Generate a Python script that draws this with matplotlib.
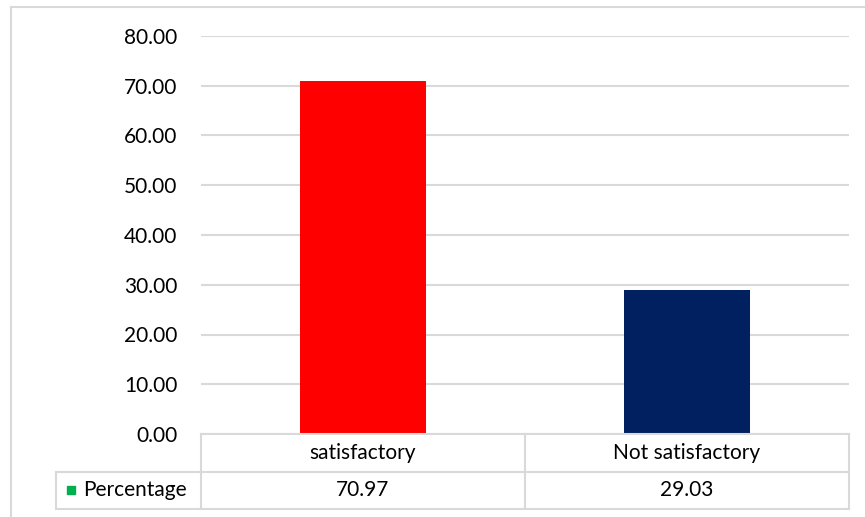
import matplotlib.pyplot as plt
from matplotlib.lines import Line2D

categories = ['satisfactory', 'Not satisfactory']
percentages = [70.97, 29.03]
series_name = 'Percentage'
bar_colors = ['#ff0000', '#002060']
yticks = [0, 10, 20, 30, 40, 50, 60, 70, 80]

W, H = 865, 517
GRID = '#d9d9d9'
plt.rcParams['font.family'] = ['Lato', 'DejaVu Sans']


def fx(px):
    return px / W


def fy(py):
    return 1 - py / H


fig = plt.figure(figsize=(W / 100, H / 100), dpi=100, facecolor='white')

# chart frame (cropped on the right and bottom like the original)
fig.add_artist(Line2D([fx(11), fx(11)], [fy(7), fy(H + 5)], color=GRID, lw=1.5))
fig.add_artist(Line2D([fx(11), fx(W + 5)], [fy(7), fy(7)], color=GRID, lw=1.5))

# plot area
left, right, top, bottom = 201, 849, 36, 434
ax = fig.add_axes([fx(left), fy(bottom), fx(right) - fx(left), fy(top) - fy(bottom)])
x = range(len(categories))
ax.bar(x, percentages, width=0.39, color=bar_colors, zorder=3)
ax.set_xlim(-0.5, len(categories) - 0.5)
ax.set_ylim(0, 80)
ax.set_yticks(yticks)
ax.set_yticklabels([f'{v:.2f}' for v in yticks], fontsize=15)
ax.tick_params(axis='y', length=0, pad=17)
ax.set_xticks([])
ax.yaxis.grid(True, color=GRID, lw=1.5)
ax.set_axisbelow(True)
for s in ax.spines.values():
    s.set_visible(False)

# data table under the plot
row1, row2, row3 = 434, 472, 509
label_left = 56
col_edges = [left + (right - left) * i / len(categories) for i in range(len(categories) + 1)]

def hline(y, x0, x1):
    fig.add_artist(Line2D([fx(x0), fx(x1)], [fy(y), fy(y)], color=GRID, lw=1.5))

def vline(xp, y0, y1):
    fig.add_artist(Line2D([fx(xp), fx(xp)], [fy(y0), fy(y1)], color=GRID, lw=1.5))

hline(row1, left, right)
hline(row2, label_left, right)
hline(row3, label_left, right)
vline(label_left, row2, row3)
for xe in col_edges:
    vline(xe, row1, row3)

for i, (cat, val) in enumerate(zip(categories, percentages)):
    cx = (col_edges[i] + col_edges[i + 1]) / 2
    fig.text(fx(cx), fy((row1 + row2) / 2), cat, ha='center', va='center', fontsize=15)
    fig.text(fx(cx), fy((row2 + row3) / 2), f'{val:.2f}', ha='center', va='center', fontsize=15)

# legend key + series name
fig.add_artist(Line2D([fx(71)], [fy(490)], marker='s', markersize=6, color='#00b050', lw=0))
fig.text(fx(83), fy((row2 + row3) / 2), series_name, ha='left', va='center', fontsize=15)

fig.savefig('out.png', dpi=100, facecolor='white')
